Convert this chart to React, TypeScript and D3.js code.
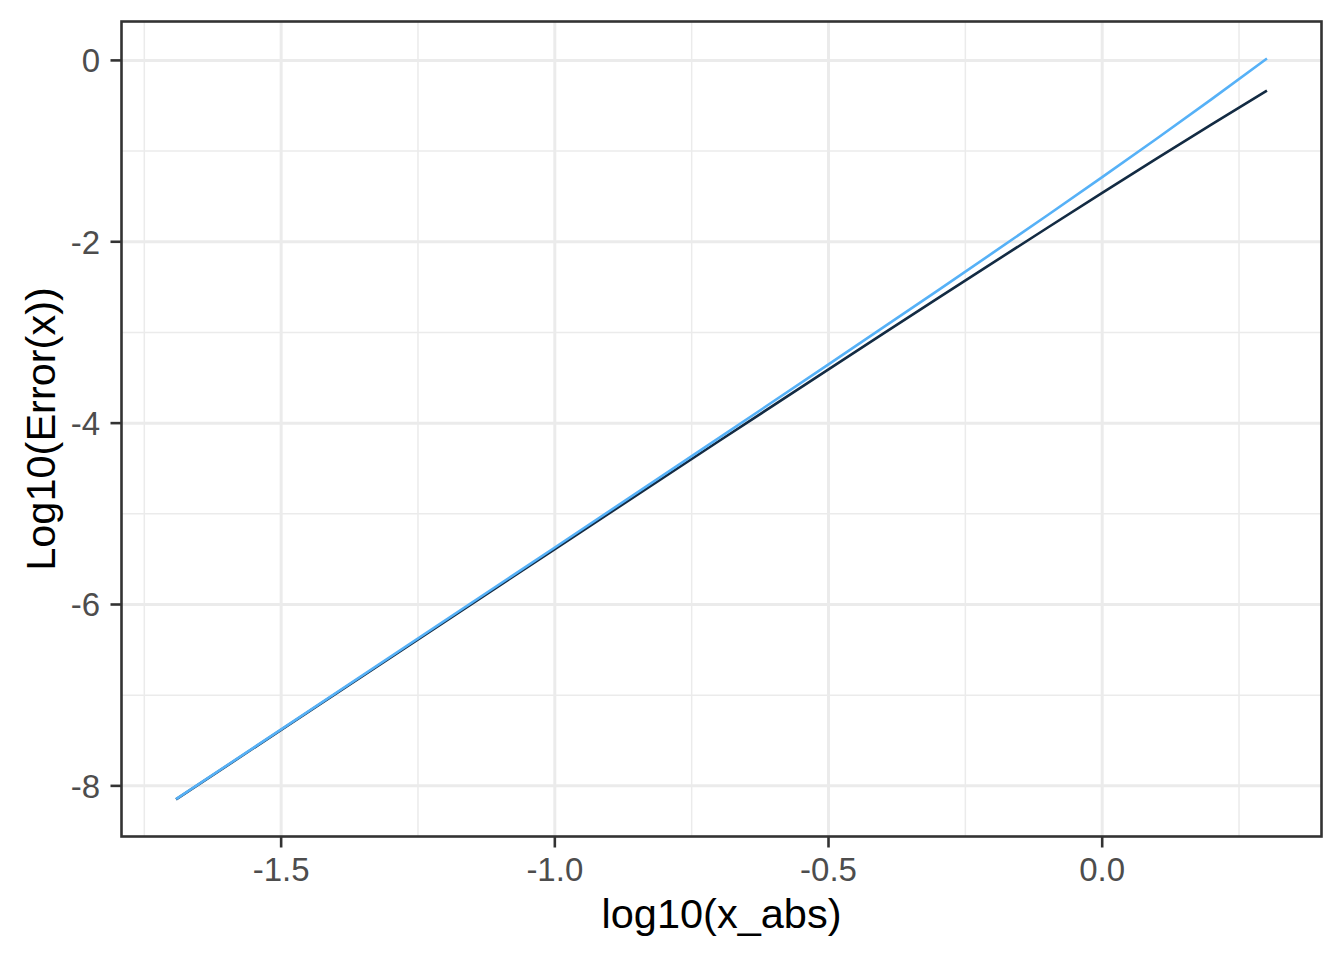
import React from "react";
import * as d3 from "d3";

const xLog = [-1.692, -1.5, -1.0, -0.7, -0.5, -0.4, -0.3, -0.2, -0.1, 0.0, 0.1, 0.2, 0.301];
const errPositive = [-8.1465, -7.3775, -5.3715, -4.1626, -3.3521, -2.9447, -2.5352, -2.1230, -1.7074, -1.2872, -0.8610, -0.4267, 0.0205];
const errNegative = [-8.1499, -7.3830, -5.3888, -4.1973, -3.4071, -3.0139, -2.6223, -2.2328, -1.8457, -1.4616, -1.0810, -0.7046, -0.3329];
const xMajor = [-1.5, -1.0, -0.5, 0.0];
const xMinor = [-1.75, -1.25, -0.75, -0.25, 0.25];
const yMajor = [-8, -6, -4, -2, 0];
const yMinor = [-7, -5, -3, -1];
const xLabels = ["-1.5", "-1.0", "-0.5", "0.0"];
const yLabels = ["-8", "-6", "-4", "-2", "0"];

const W = 1344, H = 960;
const L = 121.5, T = 21.5, R = 1321.5, B = 836.5;
const FONT = "'Liberation Sans', Arial, Helvetica, sans-serif";

export default function App() {
  const xExt = d3.extent(xLog) as [number, number];
  const allY = [...errPositive, ...errNegative];
  const yExt = d3.extent(allY) as [number, number];
  const xs = xExt[1] - xExt[0];
  const ys = yExt[1] - yExt[0];
  const x = d3.scaleLinear().domain([xExt[0] - 0.05 * xs, xExt[1] + 0.05 * xs]).range([L, R]);
  const y = d3.scaleLinear().domain([yExt[0] - 0.05 * ys, yExt[1] + 0.05 * ys]).range([B, T]);

  const line = d3
    .line<number>()
    .x((_, i) => x(xLog[i]))
    .y((d) => y(d))
    .curve(d3.curveMonotoneX);

  return (
    <svg width={W} height={H} style={{ position: "absolute", left: 0, top: 0, background: "#fff" }}>
      <rect x={0} y={0} width={W} height={H} fill="#fff" />
      {xMinor.map((v) => (
        <line key={"xm" + v} x1={x(v)} x2={x(v)} y1={T} y2={B} stroke="#EBEBEB" strokeWidth={1.5} />
      ))}
      {yMinor.map((v) => (
        <line key={"ym" + v} x1={L} x2={R} y1={y(v)} y2={y(v)} stroke="#EBEBEB" strokeWidth={1.5} />
      ))}
      {xMajor.map((v) => (
        <line key={"xM" + v} x1={x(v)} x2={x(v)} y1={T} y2={B} stroke="#EBEBEB" strokeWidth={3} />
      ))}
      {yMajor.map((v) => (
        <line key={"yM" + v} x1={L} x2={R} y1={y(v)} y2={y(v)} stroke="#EBEBEB" strokeWidth={3} />
      ))}
      <path d={line(errNegative) || ""} fill="none" stroke="#132B43" strokeWidth={2.6} />
      <path d={line(errPositive) || ""} fill="none" stroke="#56B1F7" strokeWidth={2.6} />
      <rect x={L} y={T} width={R - L} height={B - T} fill="none" stroke="#333333" strokeWidth={2.6} />
      {xMajor.map((v, i) => (
        <g key={"xt" + v}>
          <line x1={x(v)} x2={x(v)} y1={B} y2={B + 11} stroke="#333333" strokeWidth={2.6} />
          <text x={x(v)} y={881} textAnchor="middle" fontFamily={FONT} fontSize={33} fill="#4D4D4D">
            {xLabels[i]}
          </text>
        </g>
      ))}
      {yMajor.map((v, i) => (
        <g key={"yt" + v}>
          <line x1={L - 11} x2={L} y1={y(v)} y2={y(v)} stroke="#333333" strokeWidth={2.6} />
          <text x={100} y={y(v) + 11.8} textAnchor="end" fontFamily={FONT} fontSize={33} fill="#4D4D4D">
            {yLabels[i]}
          </text>
        </g>
      ))}
      <text x={(L + R) / 2} y={928} textAnchor="middle" fontFamily={FONT} fontSize={41.5} fill="#000">
        log10(x_abs)
      </text>
      <text
        transform={`translate(55, ${(T + B) / 2}) rotate(-90)`}
        textAnchor="middle"
        fontFamily={FONT}
        fontSize={41.5}
        fill="#000"
      >
        Log10(Error(x))
      </text>
    </svg>
  );
}
